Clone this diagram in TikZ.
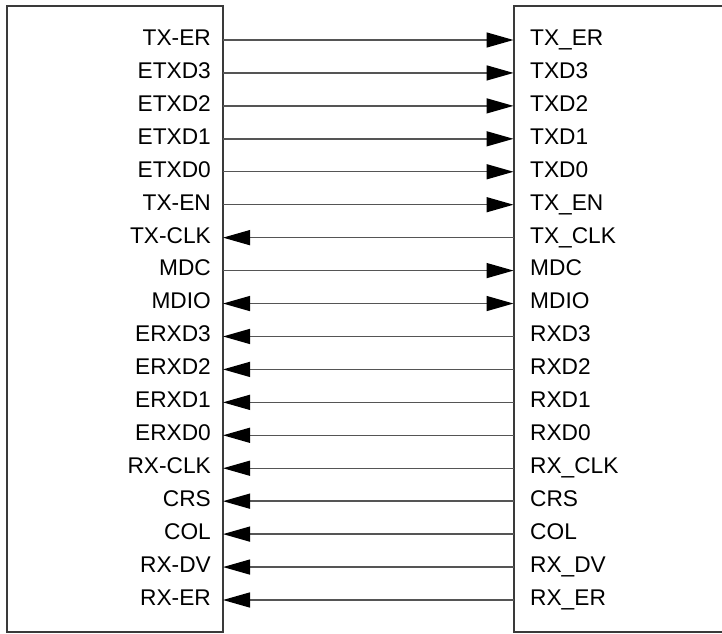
\documentclass[tikz,border=0pt]{standalone}
\usepackage{fontspec}
\setmainfont{Liberation Sans}
\usetikzlibrary{arrows.meta}
\definecolor{boxline}{HTML}{3A3A3A}
\definecolor{wire}{HTML}{555555}
\begin{document}
\begin{tikzpicture}[x=1pt,y=-1pt,
  boxframe/.style={draw=boxline,line width=2pt},
  wireline/.style={draw=wire,line width=1.4pt},
  tip/.tip={Triangle[length=27pt,width=15pt,fill=black,color=black]},
  lbl/.style={font=\fontsize{22.7}{27}\selectfont,inner sep=0pt,text=black}]
\useasboundingbox (0,0) rectangle (722,633);
\clip (0,0) rectangle (722,633);
\draw[boxframe] (7,6) rectangle (223,632);
\draw[boxframe] (513.5,6) rectangle (760,632);
\foreach \ln/\rn/\dir [count=\i from 0] in {
  TX-ER/TX\_ER/r, ETXD3/TXD3/r, ETXD2/TXD2/r, ETXD1/TXD1/r, ETXD0/TXD0/r,
  TX-EN/TX\_EN/r, TX-CLK/TX\_CLK/l, MDC/MDC/r, MDIO/MDIO/b,
  ERXD3/RXD3/l, ERXD2/RXD2/l, ERXD1/RXD1/l, ERXD0/RXD0/l, RX-CLK/RX\_CLK/l,
  CRS/CRS/l, COL/COL/l, RX-DV/RX\_DV/l, RX-ER/RX\_ER/l}{
  \pgfmathsetmacro{\yy}{40+32.94*\i}
  \node[lbl,anchor=east] (L\i) at (211,\yy) {\strut\ln};
  \node[lbl,anchor=west] (R\i) at (530,\yy) {\strut\rn};
  \coordinate (a\i) at (223,\yy);
  \coordinate (b\i) at (513.5,\yy);
  \if r\dir
    \draw[wireline,-tip] (a\i) -- (b\i);
  \else\if l\dir
    \draw[wireline,tip-] (a\i) -- (b\i);
  \else
    \draw[wireline,tip-tip] (a\i) -- (b\i);
  \fi\fi
}
\end{tikzpicture}
\end{document}
